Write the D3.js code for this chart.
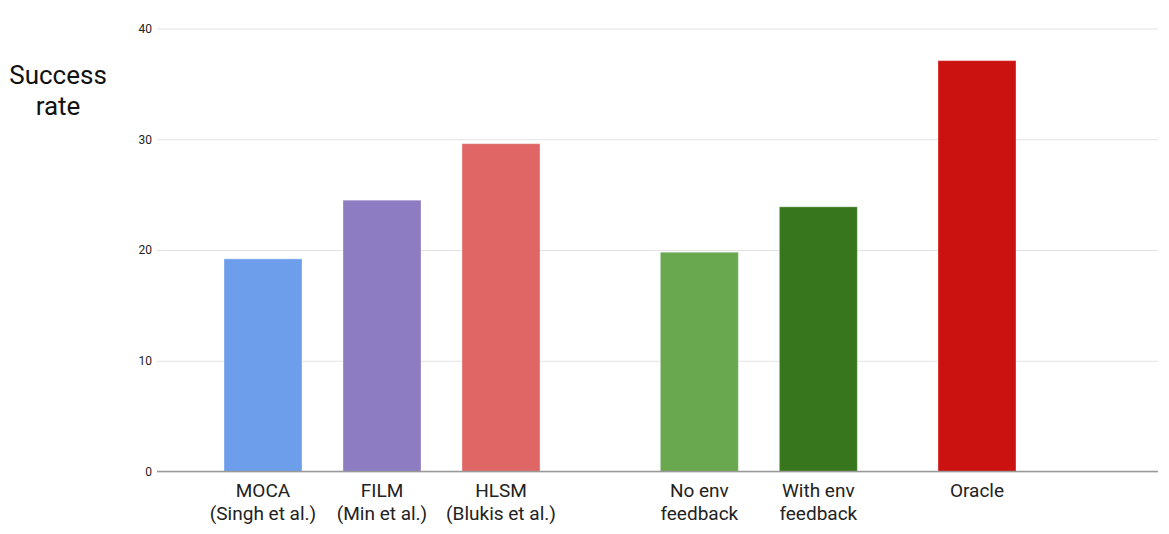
<!DOCTYPE html>
<html>
<head>
<meta charset="utf-8">
<script src="https://cdnjs.cloudflare.com/ajax/libs/d3/7.8.5/d3.min.js"></script>
<style>
    body { margin: 0; background: #fff; }
    text { font-family: Roboto, "Liberation Sans", Arial, sans-serif; }
</style>
</head>
<body>
<div id="chart"></div>
<script>
// data
const methods = ["MOCA", "FILM", "HLSM", "No env feedback", "With env feedback", "Oracle"];
const labelLines = [
    ["MOCA", "(Singh et al.)"],
    ["FILM", "(Min et al.)"],
    ["HLSM", "(Blukis et al.)"],
    ["No env", "feedback"],
    ["With env", "feedback"],
    ["Oracle"]
];
const successRate = [19.2, 24.5, 29.6, 19.8, 23.9, 37.1];
const barColors = ["#6d9eeb", "#8e7cc3", "#e06666", "#6aa84f", "#38761d", "#cc1111"];
const yTicks = [0, 10, 20, 30, 40];
const yTitle = ["Success", "rate"];

// layout
const W = 1169, H = 534;
const plot = {left: 157, right: 1158, top: 28.5, bottom: 471.5};
// empty slots before each bar, so the groups sit apart like in the original
const gapsBefore = [0, 2, 2, 4, 2, 3];
const barWidth = 78;

const svg = d3.select("#chart")
    .append("svg")
    .attr("width", W)
    .attr("height", H);

// build the slot domain with spacer keys between bars
const slots = [];
methods.forEach((m, i) => {
    for (let g = 0; g < gapsBefore[i]; g++) slots.push("_gap" + i + "_" + g);
    slots.push(m);
});

const x = d3.scalePoint()
    .domain(slots)
    .range([263, 977]);

const y = d3.scaleLinear()
    .domain([0, 40])
    .range([plot.bottom, plot.top]);

// gridlines + tick labels
const yAxis = svg.append("g")
    .attr("transform", "translate(" + plot.left + ",0)")
    .call(d3.axisLeft(y)
        .tickValues(yTicks)
        .tickSize(-(plot.right - plot.left))
        .tickPadding(5));
yAxis.select(".domain").remove();
yAxis.selectAll(".tick line")
    .attr("stroke", "#e3e3e3")
    .attr("stroke-width", 1);
yAxis.selectAll(".tick text")
    .attr("fill", "#222")
    .style("font-size", "12px");

// bars
svg.selectAll(".bar")
    .data(methods)
    .enter().append("rect")
    .attr("class", "bar")
    .attr("x", d => x(d) - barWidth / 2)
    .attr("y", (d, i) => y(successRate[i]))
    .attr("width", barWidth)
    .attr("height", (d, i) => y(0) - y(successRate[i]))
    .attr("fill", (d, i) => barColors[i])
    .attr("stroke", "rgba(255,255,255,0.35)")
    .attr("stroke-width", 1);

// baseline
svg.append("line")
    .attr("x1", plot.left)
    .attr("x2", plot.right)
    .attr("y1", y(0))
    .attr("y2", y(0))
    .attr("stroke", "#999")
    .attr("stroke-width", 1.3);

// category labels
const cat = svg.selectAll(".cat")
    .data(methods)
    .enter().append("text")
    .attr("class", "cat")
    .attr("text-anchor", "middle")
    .attr("fill", "#222")
    .style("font-size", "19px");
cat.selectAll("tspan")
    .data((d, i) => labelLines[i].map(t => ({t: t, m: d})))
    .enter().append("tspan")
    .attr("x", d => x(d.m))
    .attr("y", (d, j) => y(0) + 25.5 + j * 22.7)
    .text(d => d.t);

// axis title
svg.append("text")
    .attr("text-anchor", "middle")
    .attr("fill", "#111")
    .style("font-size", "26px")
    .selectAll("tspan")
    .data(yTitle)
    .enter().append("tspan")
    .attr("x", 58)
    .attr("y", (d, i) => 83.5 + i * 31.5)
    .text(d => d);
</script>
</body>
</html>
